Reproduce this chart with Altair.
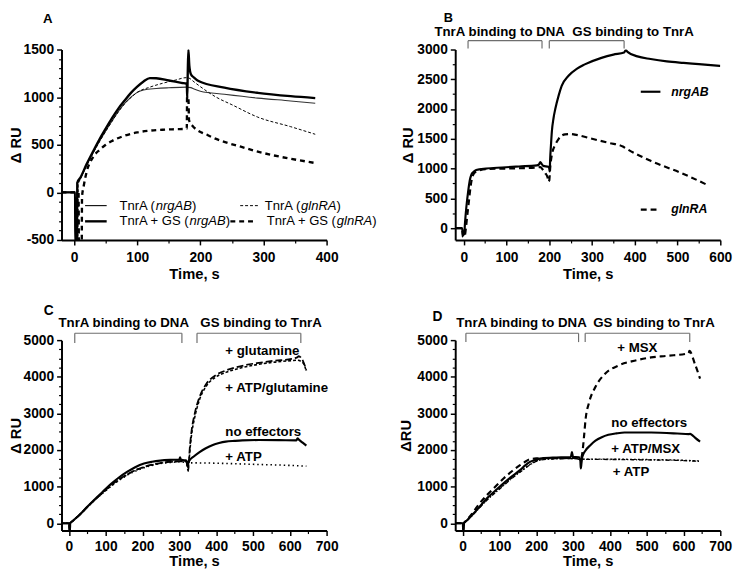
import altair as alt
import pandas as pd

FONT = "Liberation Sans"

# ---------------- Panel A ----------------
A_ns_t = [-20, 1.5, 2, 4.5, 5, 10, 20, 30, 40, 50, 60, 70, 80, 90, 100, 110, 130, 150, 178, 185, 190, 200, 238, 291, 343, 382]
A_ns_v = [0, 0, -560, -560, 100, 150, 290, 415, 535, 645, 750, 850, 935, 1000, 1050, 1075, 1090, 1098, 1105, 1100, 1085, 1062, 1030, 990, 960, 936]
A_gs_t = [-20, 1.5, 2, 4.5, 5, 10, 20, 30, 40, 50, 60, 70, 80, 90, 100, 110, 120, 130, 150, 170, 178.5, 179.2, 180, 181, 182.5, 185, 190, 197, 238, 291, 343, 382]
A_gs_v = [0, 0, -560, -560, 100, 155, 300, 430, 555, 670, 780, 880, 965, 1045, 1110, 1165, 1200, 1198, 1175, 1150, 1140, 990, 1250, 1500, 1330, 1240, 1205, 1170, 1100, 1045, 1010, 990]
A_ng_t = [-20, 3, 3.5, 6, 6.5, 10, 20, 30, 40, 50, 60, 70, 80, 90, 100, 120, 140, 160, 178, 182, 190, 200, 225, 250, 291, 343, 382]
A_ng_v = [0, 0, -560, -560, 80, 140, 280, 410, 530, 640, 745, 845, 930, 995, 1050, 1105, 1145, 1178, 1205, 1200, 1160, 1110, 1000, 920, 790, 690, 610]
A_gg_t = [-20, 7, 7.5, 12, 12.5, 15, 20, 30, 40, 50, 60, 80, 100, 120, 140, 160, 178.5, 179, 181, 182, 187, 212, 238, 264, 291, 317, 343, 382]
A_gg_v = [0, 0, -560, -560, -50, 60, 220, 370, 445, 500, 540, 595, 630, 648, 658, 663, 668, 1000, 1000, 760, 703, 600, 530, 480, 428, 387, 353, 308]

# ---------------- Panel B ----------------
B_n_t = [-20, -4, -2, 1, 3, 6, 10, 14, 18, 22, 29, 52, 90, 129, 171, 176, 179, 182, 186, 198, 200, 201, 202, 204, 206, 210, 214, 222, 229, 245, 265, 283, 322, 350, 375, 379, 383, 406, 437, 475, 514, 550, 600]
B_n_v = [0, 0, -120, -100, 100, 350, 600, 800, 900, 940, 975, 1000, 1018, 1035, 1053, 1070, 1110, 1080, 1045, 1030, 1000, 950, 1150, 1400, 1620, 1850, 2000, 2230, 2390, 2560, 2680, 2750, 2860, 2915, 2950, 2990, 2960, 2885, 2840, 2800, 2775, 2755, 2725]
B_g_t = [-20, -4, -2, 2, 5, 8, 12, 16, 21, 29, 52, 129, 170, 179, 185, 191, 196, 198, 200, 202, 206, 214, 222, 237, 250, 260, 300, 340, 372, 380, 437, 514, 571]
B_g_v = [0, 0, -150, -140, 0, 200, 450, 700, 880, 950, 990, 1005, 1015, 1025, 980, 920, 850, 780, 800, 1000, 1230, 1400, 1500, 1575, 1580, 1570, 1500, 1430, 1370, 1335, 1130, 910, 720]

# ---------------- Panel C ----------------
C_ne_t = [-20, 1, 1.5, 3, 3.5, 10, 30, 50, 70, 92, 114, 136, 159, 180, 204, 226, 248, 275, 300, 302, 304, 315, 320, 322, 324, 328, 340, 355, 372, 391, 408, 426, 450, 471, 516, 570, 618, 621, 625, 635, 645]
C_ne_v = [0, 0, -190, -190, 0, 60, 240, 450, 651, 860, 1070, 1250, 1408, 1530, 1631, 1680, 1711, 1730, 1738, 1800, 1738, 1720, 1700, 1560, 1650, 1720, 1830, 1943, 2050, 2139, 2190, 2228, 2250, 2264, 2273, 2270, 2264, 2317, 2280, 2200, 2121]
C_atp_t = [-20, 1, 1.5, 3, 3.5, 10, 30, 50, 70, 92, 114, 136, 159, 180, 204, 226, 248, 275, 302, 320, 324, 330, 400, 500, 600, 645]
C_atp_v = [0, 0, -190, -190, 0, 60, 240, 440, 630, 820, 1007, 1170, 1319, 1420, 1515, 1580, 1631, 1660, 1676, 1660, 1631, 1650, 1640, 1610, 1580, 1560]
C_glu_t = [-20, 1, 1.5, 3, 3.5, 10, 30, 50, 70, 92, 114, 136, 159, 180, 204, 226, 248, 275, 302, 320, 324, 326, 328, 333, 342, 355, 373, 400, 426, 471, 516, 560, 605, 620, 624, 636, 645]
C_glu_v = [0, 0, -190, -190, 0, 60, 240, 445, 640, 840, 1030, 1200, 1340, 1450, 1540, 1600, 1645, 1680, 1700, 1690, 1426, 1700, 2000, 2500, 3000, 3450, 3800, 4050, 4170, 4300, 4380, 4440, 4490, 4530, 4560, 4430, 4170]
C_ag_t = [-20, 1, 1.5, 3, 3.5, 10, 30, 50, 70, 92, 114, 136, 159, 180, 204, 226, 248, 275, 302, 320, 324, 326, 328, 333, 342, 355, 373, 400, 426, 471, 516, 560, 605, 620, 636, 645]
C_ag_v = [0, 0, -190, -190, 0, 60, 240, 440, 635, 830, 1015, 1185, 1330, 1440, 1530, 1592, 1640, 1672, 1690, 1680, 1500, 1650, 1900, 2400, 2900, 3380, 3740, 4000, 4120, 4250, 4340, 4400, 4440, 4450, 4380, 4150]

# ---------------- Panel D ----------------
D_ne_t = [-20, 1, 1.5, 3, 3.5, 10, 30, 44, 67.5, 90, 112, 134, 156, 170, 183, 197, 210, 245, 294, 297, 300, 316, 320, 321, 323, 325, 334, 347, 361, 378, 396, 418, 440, 512, 583, 614, 618, 622, 632, 645]
D_ne_v = [0, 0, -190, -190, 0, 60, 270, 428, 695, 900, 1096, 1280, 1453, 1580, 1676, 1730, 1765, 1791, 1809, 1943, 1809, 1800, 1700, 1497, 1650, 1809, 1988, 2130, 2255, 2350, 2415, 2455, 2478, 2478, 2451, 2433, 2445, 2420, 2330, 2228]
D_msx_t = [-20, 1, 1.5, 3, 3.5, 10, 30, 44, 67.5, 90, 112, 134, 156, 170, 183, 200, 245, 307, 321, 325, 330, 334, 343, 361, 387, 423, 467, 512, 556, 614, 616, 631, 645]
D_msx_v = [0, 0, -190, -190, 0, 70, 320, 517, 784, 1010, 1230, 1420, 1586, 1680, 1747, 1770, 1783, 1783, 1765, 1900, 2389, 2834, 3280, 3725, 4082, 4305, 4439, 4528, 4572, 4643, 4706, 4350, 3948]
D_am_t = [-20, 1, 1.5, 3, 3.5, 10, 30, 44, 67.5, 90, 112, 134, 156, 170, 183, 200, 220, 245, 300, 321, 330, 400, 500, 600, 645]
D_am_v = [0, 0, -190, -190, 0, 60, 260, 410, 660, 860, 1051, 1240, 1408, 1510, 1604, 1700, 1745, 1760, 1770, 1750, 1752, 1750, 1740, 1720, 1700]
D_atp_t = [-20, 1, 1.5, 3, 3.5, 10, 30, 44, 67.5, 90, 112, 134, 156, 170, 183, 200, 220, 245, 300, 321, 330, 400, 500, 600, 645]
D_atp_v = [0, 0, -190, -190, 0, 55, 250, 400, 645, 845, 1035, 1225, 1395, 1500, 1595, 1690, 1738, 1755, 1765, 1745, 1745, 1742, 1730, 1712, 1690]

# brackets (time spans) and their captions
B_brackets = [[10, 183], [200, 375]]
B_captions = ["TnrA binding to DNA", "GS binding to TnrA"]
B_caption_t = [84, 396]
C_brackets = [[16, 307], [348, 630]]
C_caption_t = [149, 522]
D_brackets = [[9, 315], [333, 617]]
D_caption_t = [160, 520]

C_labels = ["+ glutamine", "+ ATP/glutamine", "no effectors", "+ ATP"]
C_label_t = [425, 425, 425, 425]
C_label_v = [4706, 3698, 2503, 1808]
D_labels = ["+ MSX", "no effectors", "+ ATP/MSX", "+ ATP"]
D_label_t = [420, 404, 404, 408]
D_label_v = [4794, 2743, 2032, 1406]

W = {' ': 278, '(': 333, ')': 333, '+': 584, 'A': 667, 'B': 667, 'G': 778, 'S': 667,
     'T': 611, 'R': 722, 'a': 556, 'g': 556, 'l': 222, 'n': 556, 'r': 333}


def tw(s, size):
    return sum(W.get(c, 556) for c in s) * size / 1000.0


ONE = pd.DataFrame({"t": [0], "v": [0]})
W_PLOT, H_PLOT = 270, 194
LBL = "'' + datum.value"


def panel(series, xdom, ydom, xmaj, xmin_, ymaj, ymin_, ytitle, ytitlepad, xlabpad, xtitlepad, extras):
    xs = alt.Scale(domain=xdom, nice=False, zero=False)
    ys = alt.Scale(domain=ydom, nice=False, zero=False)
    major = alt.Chart(ONE).mark_point(opacity=0).encode(
        x=alt.X("t:Q", scale=xs, axis=alt.Axis(values=xmaj, title="Time, s", orient="bottom", labelExpr=LBL,
                                               labelPadding=xlabpad, titlePadding=xtitlepad)),
        y=alt.Y("v:Q", scale=ys, axis=alt.Axis(values=ymaj, title=ytitle, orient="left", labelExpr=LBL,
                                               labelPadding=3, titlePadding=ytitlepad)),
    )
    minor = alt.Chart(ONE).mark_point(opacity=0).encode(
        x=alt.X("t:Q", scale=xs, axis=alt.Axis(values=xmin_, title=None, orient="bottom", labels=False,
                                               domain=False, tickSize=3, tickWidth=1.2)),
        y=alt.Y("v:Q", scale=ys, axis=alt.Axis(values=ymin_, title=None, orient="left", labels=False,
                                               domain=False, tickSize=3, tickWidth=1.2)),
    )
    layers = [major, minor]
    for t, v, width, dash, color in series:
        kw = dict(color=color, strokeWidth=width, clip=True, interpolate="monotone")
        if dash:
            kw["strokeDash"] = dash
        layers.append(
            alt.Chart(pd.DataFrame({"t": t, "v": v})).mark_line(**kw).encode(
                x=alt.X("t:Q", scale=xs, axis=None), y=alt.Y("v:Q", scale=ys, axis=None)
            )
        )
    for e in extras(xs, ys):
        layers.append(e)
    return alt.layer(*layers).resolve_axis(x="independent", y="independent").properties(
        width=W_PLOT, height=H_PLOT
    )


def txt(s, x, y, size, weight="normal", style="normal", align="left", baseline="middle"):
    return alt.Chart(ONE).mark_text(text=s, font=FONT, fontSize=size, fontWeight=weight, fontStyle=style,
                                    align=align, baseline=baseline, color="black").encode(
        x=alt.value(x), y=alt.value(y))


def mixed(pieces, x0, y, size):
    out = []
    x = x0
    for s, ital in pieces:
        out.append(txt(s, x, y, size, style="italic" if ital else "normal"))
        x += tw(s, size)
    return out


def sample(x1, x2, y, width, dash=None):
    kw = dict(color="black", strokeWidth=width)
    if dash:
        kw["strokeDash"] = dash
    return alt.Chart(ONE).mark_rule(**kw).encode(x=alt.value(x1), x2=alt.value(x2), y=alt.value(y))


def brackets(spans, xs, ytop, ybot, captions, cap_t, cap_y):
    out = []
    df = pd.DataFrame({"t1": [s[0] for s in spans], "t2": [s[1] for s in spans]})
    legs = pd.DataFrame({"t": [p for s in spans for p in s]})
    out.append(alt.Chart(df).mark_rule(color="#6e6e6e", strokeWidth=1.2).encode(
        x=alt.X("t1:Q", scale=xs, axis=None), x2="t2:Q", y=alt.value(ytop)))
    out.append(alt.Chart(legs).mark_rule(color="#6e6e6e", strokeWidth=1.2).encode(
        x=alt.X("t:Q", scale=xs, axis=None), y=alt.value(ytop), y2=alt.value(ybot)))
    cdf = pd.DataFrame({"t": cap_t, "s": captions})
    out.append(alt.Chart(cdf).mark_text(font=FONT, fontSize=13.5, fontWeight="bold", align="center",
                                        baseline="middle", color="black").encode(
        x=alt.X("t:Q", scale=xs, axis=None), y=alt.value(cap_y), text="s:N"))
    return out


def labels(lab, lt, lv, xs, ys):
    df = pd.DataFrame({"t": lt, "v": lv, "s": lab})
    return alt.Chart(df).mark_text(font=FONT, fontSize=13.5, fontWeight="bold", align="left",
                                   baseline="middle", color="black").encode(
        x=alt.X("t:Q", scale=xs, axis=None), y=alt.Y("v:Q", scale=ys, axis=None), text="s:N")


def extras_A(xs, ys):
    out = [txt("A", -14, -38, 13.5, weight="bold", align="center", baseline="top")]
    out.append(sample(24, 46, 159, 1.1))
    out += mixed([("TnrA (", False), ("nrgAB", True), (")", False)], 59, 159, 13.3)
    out.append(sample(182, 202, 159, 1.0, [3, 2]))
    out += mixed([("TnrA (", False), ("glnRA", True), (")", False)], 207, 159, 13.3)
    out.append(sample(24, 46, 175, 2.4))
    out += mixed([("TnrA + GS (", False), ("nrgAB", True), (")", False)], 59, 175, 13.3)
    out.append(sample(172, 196, 175, 2.4, [5, 4]))
    out += mixed([("TnrA + GS (", False), ("glnRA", True), (")", False)], 209, 175, 13.3)
    return out


def extras_B(xs, ys):
    out = [txt("B", -7, -38, 13, weight="bold", align="center", baseline="top")]
    out += brackets(B_brackets, xs, -9, -1, B_captions, B_caption_t, -17.5)
    out.append(sample(189, 209, 43, 2.2))
    out.append(txt("nrgAB", 220, 43, 12.5, weight="bold", style="italic"))
    out.append(sample(189, 209, 163, 2.2, [6, 4]))
    out.append(txt("glnRA", 220, 163, 12.5, weight="bold", style="italic"))
    return out


def extras_C(xs, ys):
    out = [txt("C", -13, -37, 14, weight="bold", align="center", baseline="top")]
    out += brackets(C_brackets, xs, -7, 3, B_captions, C_caption_t, -17)
    out.append(labels(C_labels, C_label_t, C_label_v, xs, ys))
    return out


def extras_D(xs, ys):
    out = [txt("D", -18, -31, 14, weight="bold", align="center", baseline="top")]
    out += brackets(D_brackets, xs, -7, 2, B_captions, D_caption_t, -17)
    out.append(labels(D_labels, D_label_t, D_label_v, xs, ys))
    return out


pA = panel(
    [(A_ns_t, A_ns_v, 1.1, None, "#333333"), (A_ng_t, A_ng_v, 1.0, [3, 2], "black"),
     (A_gs_t, A_gs_v, 2.4, None, "black"), (A_gg_t, A_gg_v, 2.4, [5, 4], "black")],
    [-20, 400], [-500, 1500], [0, 100, 200, 300, 400], [50, 150, 250, 350],
    [-500, 0, 500, 1000, 1500], [v for v in range(-400, 1500, 100) if v % 500 != 0],
    "Δ RU", 0, 6, 2, extras_A)

pB = panel(
    [(B_n_t, B_n_v, 2.2, None, "black"), (B_g_t, B_g_v, 2.2, [6, 4], "black")],
    [-20, 600], [-200, 3000], list(range(0, 601, 100)), list(range(50, 600, 100)),
    list(range(0, 3001, 500)), list(range(250, 3000, 500)),
    "Δ RU", 1.5, 6, 2, extras_B)

pC = panel(
    [(C_atp_t, C_atp_v, 1.6, [1.5, 3], "black"), (C_ag_t, C_ag_v, 1.6, [3, 2], "black"),
     (C_glu_t, C_glu_v, 1.8, [7, 3], "black"), (C_ne_t, C_ne_v, 2.2, None, "black")],
    [-20, 700], [-200, 5000], list(range(0, 701, 100)), list(range(50, 700, 100)),
    list(range(0, 5001, 1000)), [v for v in range(250, 5000, 250) if v % 1000 != 0],
    "Δ RU", 0, 4.5, 0.5, extras_C)

pD = panel(
    [(D_atp_t, D_atp_v, 1.4, [4, 2, 1, 2], "black"), (D_am_t, D_am_v, 1.4, [2, 2], "black"),
     (D_msx_t, D_msx_v, 2.2, [6, 4], "black"), (D_ne_t, D_ne_v, 2.2, None, "black")],
    [-20, 700], [-200, 5000], list(range(0, 701, 100)), list(range(50, 700, 100)),
    list(range(0, 5001, 1000)), [v for v in range(250, 5000, 250) if v % 1000 != 0],
    "ΔRU", 3.5, 4.5, 0.5, extras_D)

chart = alt.concat(pA, pB, pC, pD, columns=2, spacing={"row": 102, "column": 131},
                   bounds="flush").properties(
    padding={"left": -0.5, "top": -1, "right": 5, "bottom": 5}
).configure_view(stroke=None).configure_axis(
    labelFont=FONT, labelFontSize=14, labelFontWeight="bold", labelColor="black",
    titleFont=FONT, titleFontSize=15, titleFontWeight="bold", titleColor="black",
    domainColor="black", domainWidth=2, tickColor="black", tickWidth=1.5, tickSize=5,
    grid=False, labelFlush=False, labelOverlap=False
)

chart.save("out.html", embed_options={"renderer": "svg", "actions": False})
